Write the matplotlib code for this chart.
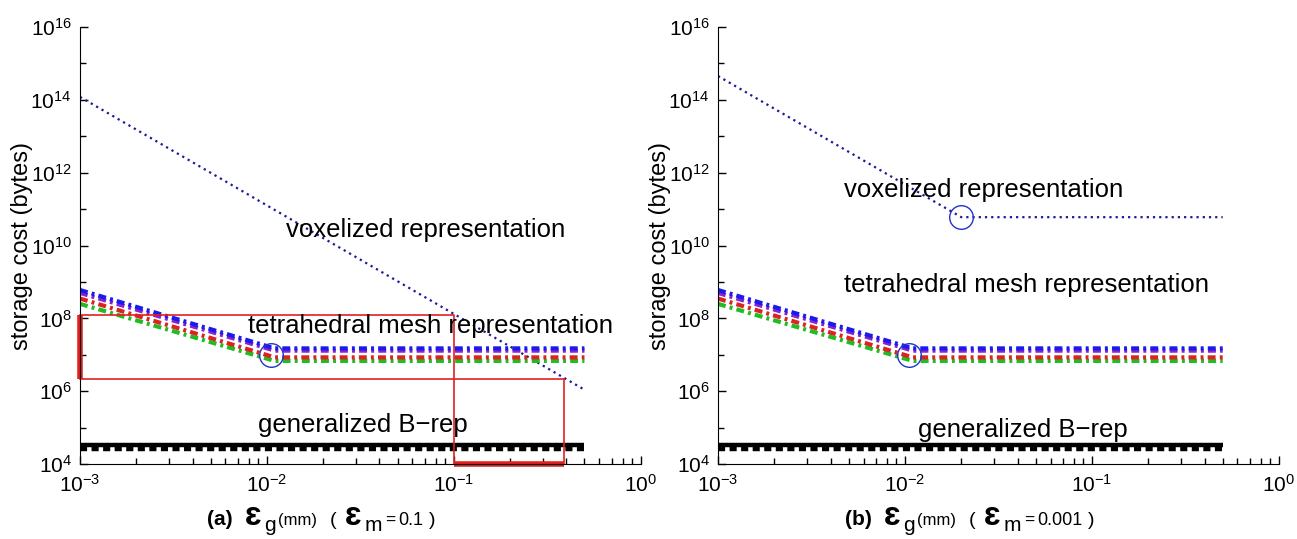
import matplotlib
matplotlib.use("Agg")
import matplotlib.pyplot as plt
from matplotlib.ticker import LogLocator, NullFormatter

plt.rcParams['font.family'] = ['Liberation Sans', 'DejaVu Sans']
plt.rcParams['mathtext.fontset'] = 'custom'
plt.rcParams['mathtext.rm'] = 'Liberation Sans'
plt.rcParams['mathtext.it'] = 'Liberation Sans:italic'
plt.rcParams['mathtext.bf'] = 'Liberation Sans:bold'

# x values (eps_g, mm)
x_start = 1e-3
x_end = 0.5
tetra_kink = 0.011

# tetrahedral mesh curves (same in both panels)
tetra_x = [x_start, tetra_kink, x_end]
tetra_blue = [6.0e8, 1.5e7, 1.5e7]
tetra_purple = [5.0e8, 1.3e7, 1.3e7]
tetra_red = [3.5e8, 8.5e6, 8.5e6]
tetra_green = [2.5e8, 6.8e6, 6.8e6]

# voxelized representation
vox_a_x = [x_start, x_end]
vox_a_y = [1.2e14, 1.1e6]
vox_b_x = [x_start, 0.02, x_end]
vox_b_y = [4.5e14, 6.0e10, 6.0e10]

# generalized B-rep
brep_x = [x_start, x_end]
brep_solid = [3.4e4, 3.4e4]
brep_dashed = [2.6e4, 2.6e4]

# circled transition points
circ_a_x = [0.0105]
circ_a_y = [1.0e7]
circ_b_x = [0.0105, 0.02]
circ_b_y = [1.0e7, 6.0e10]

# red guide lines on panel (a)
guide_x1 = 0.1
guide_x2 = 0.387
guide_y1 = 1.2e8
guide_y2 = 2.1e6

W, H = 1297, 539
fig = plt.figure(figsize=(W / 100, H / 100), dpi=100)
ax1 = fig.add_axes([0.0617, 0.139, 0.4323, 0.811])
ax2 = fig.add_axes([0.5536, 0.139, 0.4325, 0.811])


def style_axes(ax):
    ax.set_xscale('log')
    ax.set_yscale('log')
    ax.set_xlim(1e-3, 1)
    ax.set_ylim(1e4, 1e16)
    ax.spines['top'].set_visible(False)
    ax.spines['right'].set_visible(False)
    ax.set_yticks([10.0 ** k for k in range(4, 17, 2)])
    ax.set_yticklabels([r'$10^{%d}$' % k for k in range(4, 17, 2)])
    ax.yaxis.set_minor_locator(LogLocator(base=100, subs=[10]))
    ax.yaxis.set_minor_formatter(NullFormatter())
    ax.set_xticks([1e-3, 1e-2, 1e-1, 1])
    ax.set_xticklabels([r'$10^{-3}$', r'$10^{-2}$', r'$10^{-1}$', r'$10^{0}$'])
    ax.xaxis.set_minor_locator(LogLocator(base=10, subs=range(2, 10)))
    ax.xaxis.set_minor_formatter(NullFormatter())
    ax.tick_params(which='both', direction='in', labelsize=15, width=1)
    ax.tick_params(which='major', length=6)
    ax.tick_params(which='minor', length=4)
    ax.tick_params(axis='x', pad=7)
    ax.tick_params(axis='y', pad=6)
    ax.set_ylabel('storage cost (bytes)', fontsize=17, labelpad=-2)


def draw_tetra(ax):
    dd = (0, (1.9, 1.0, 0.7, 1.0))
    ax.plot(tetra_x, tetra_green, color='#22bb22', ls=dd, lw=3)
    ax.plot(tetra_x, tetra_red, color='#dd2222', ls=dd, lw=3)
    ax.plot(tetra_x, tetra_purple, color='#8822cc', ls=dd, lw=3)
    ax.plot(tetra_x, tetra_blue, color='#1a1aee', ls=dd, lw=3)


def draw_brep(ax):
    ax.plot(brep_x, brep_solid, color='black', lw=3.2, solid_capstyle='butt')
    ax.plot(brep_x, brep_dashed, color='black', lw=3.2, ls=(0, (1.6, 1.0)))


for ax in (ax1, ax2):
    style_axes(ax)

# panel (a)
ax1.plot(vox_a_x, vox_a_y, color='#1a1a99', ls=(0, (1, 1.8)), lw=1.6)
draw_tetra(ax1)
draw_brep(ax1)
ax1.plot(circ_a_x, circ_a_y, 'o', mfc='none', mec='#2233cc', ms=17, mew=1)
ax1.plot([x_start, guide_x1, guide_x1], [guide_y1, guide_y1, 1e4], color='#e02020', lw=1.2, clip_on=False)
ax1.plot([x_start, guide_x2, guide_x2], [guide_y2, guide_y2, 1e4], color='#e02020', lw=1.2, clip_on=False)
ax1.plot([guide_x1, guide_x2], [1e4, 1e4], color='#e02020', lw=4, clip_on=False, solid_capstyle='butt')
ax1.plot([x_start, x_start], [guide_y2, guide_y1], color='#e02020', lw=4, clip_on=False, solid_capstyle='butt')

ax1.text(0.0126, 10 ** 10.42, 'voxelized representation', fontsize=18.5, va='center')
ax1.text(0.0079, 10 ** 7.79, 'tetrahedral mesh representation', fontsize=18.5, va='center')
ax1.text(0.009, 10 ** 5.07, 'generalized B\u2212rep', fontsize=18.5, va='center')

# panel (b)
ax2.plot(vox_b_x, vox_b_y, color='#1a1a99', ls=(0, (1, 1.8)), lw=1.6)
draw_tetra(ax2)
draw_brep(ax2)
ax2.plot(circ_b_x, circ_b_y, 'o', mfc='none', mec='#2233cc', ms=17, mew=1)

ax2.text(0.0047, 10 ** 11.52, 'voxelized representation', fontsize=18.5, va='center')
ax2.text(0.0047, 10 ** 8.91, 'tetrahedral mesh representation', fontsize=18.5, va='center')
ax2.text(0.0117, 10 ** 4.93, 'generalized B\u2212rep', fontsize=18.5, va='center')

renderer = fig.canvas.get_renderer()


def eps_label(x_px, tag, value):
    # pieces: text, size, weight, vertical shift px, gap before px
    pieces = [(tag, 15, 'bold', 0, 0), ('\u025b', 24, 'bold', 0, 12),
              ('g', 15, 'normal', -6, 3), ('(mm)', 12, 'normal', 0, 2),
              ('(', 14, 'normal', 0, 13), ('\u025b', 24, 'bold', 0, 8),
              ('m', 15, 'normal', -6, 3), ('=', 12.5, 'normal', 0, 3),
              (value, 13, 'normal', 0, 3), (')', 14, 'normal', 0, 6)]
    base_y = 14
    x = x_px
    for s, fs, fw, dy, gap in pieces:
        x += gap
        t = fig.text(x / W, (base_y + dy) / H, s, fontsize=fs, fontweight=fw, va='baseline')
        bb = t.get_window_extent(renderer)
        x = bb.x1


eps_label(207, '(a)', '0.1')
eps_label(845, '(b)', '0.001')

fig.savefig('out.png', dpi=100)
